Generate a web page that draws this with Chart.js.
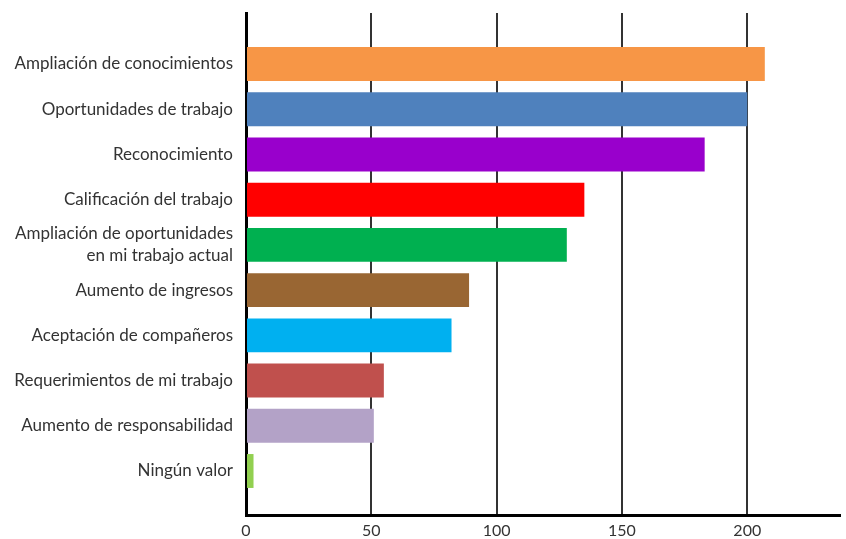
<!DOCTYPE html>
<html>
<head>
<meta charset="utf-8">
<script src="https://cdn.jsdelivr.net/npm/chart.js@4.4.1/dist/chart.umd.min.js"></script>
<style>
  html, body { margin: 0; padding: 0; background: #fff; }
  #wrap { width: 846px; height: 539px; position: relative; }
</style>
</head>
<body>
<div id="wrap"><canvas id="barChart"></canvas></div>
<script>
const categories = [
    "Ampliación de conocimientos",
    "Oportunidades de trabajo",
    "Reconocimiento",
    "Calificación del trabajo",
    ["Ampliación de oportunidades", "en mi trabajo actual"],
    "Aumento de ingresos",
    "Aceptación de compañeros",
    "Requerimientos de mi trabajo",
    "Aumento de responsabilidad",
    "Ningún valor"
];
const values = [207, 200, 183, 135, 128, 89, 82, 55, 51, 3];
const barColors = ["#F79646", "#4F81BD", "#9900CC", "#FF0000", "#00B050",
                   "#996633", "#00B0F0", "#C0504D", "#B3A2C7", "#92D050"];
const xTicks = [0, 50, 100, 150, 200];

const ctx = document.getElementById('barChart').getContext('2d');
const myChart = new Chart(ctx, {
    type: 'bar',
    data: {
        datasets: [{
            data: values.map((v, i) => ({ x: v, y: i })),
            backgroundColor: barColors,
            borderWidth: 0,
            barPercentage: 0.75,
            categoryPercentage: 1
        }]
    },
    options: {
        indexAxis: 'y',
        responsive: true,
        maintainAspectRatio: false,
        animation: false,
        layout: { padding: { top: 13, right: 6 } },
        plugins: { legend: { display: false }, tooltip: { enabled: false } },
        scales: {
            x: {
                type: 'linear',
                min: 0,
                max: 237,
                afterBuildTicks: (scale) => { scale.ticks = xTicks.map(v => ({ value: v })); },
                afterFit: (scale) => { scale.height = 24; },
                grid: { color: '#333', lineWidth: 2, drawTicks: false },
                border: { color: '#000', width: 3 },
                ticks: { color: '#333', padding: 6, font: { family: 'Lato', size: 16 } }
            },
            y: {
                type: 'linear',
                reverse: true,
                offset: false,
                min: -1.128,
                max: 9.973,
                afterBuildTicks: (scale) => { scale.ticks = categories.map((c, i) => ({ value: i })); },
                afterFit: (scale) => {
                    scale.width = 246;
                    scale.paddingTop = 0;
                    scale.paddingBottom = 0;
                },
                grid: { display: false, drawTicks: false },
                border: { color: '#000', width: 3 },
                ticks: {
                    color: '#333',
                    padding: 13,
                    font: { family: 'Lato', size: 17, lineHeight: 1.3 },
                    callback: (v) => categories[v]
                }
            }
        }
    }
});
</script>
</body>
</html>
